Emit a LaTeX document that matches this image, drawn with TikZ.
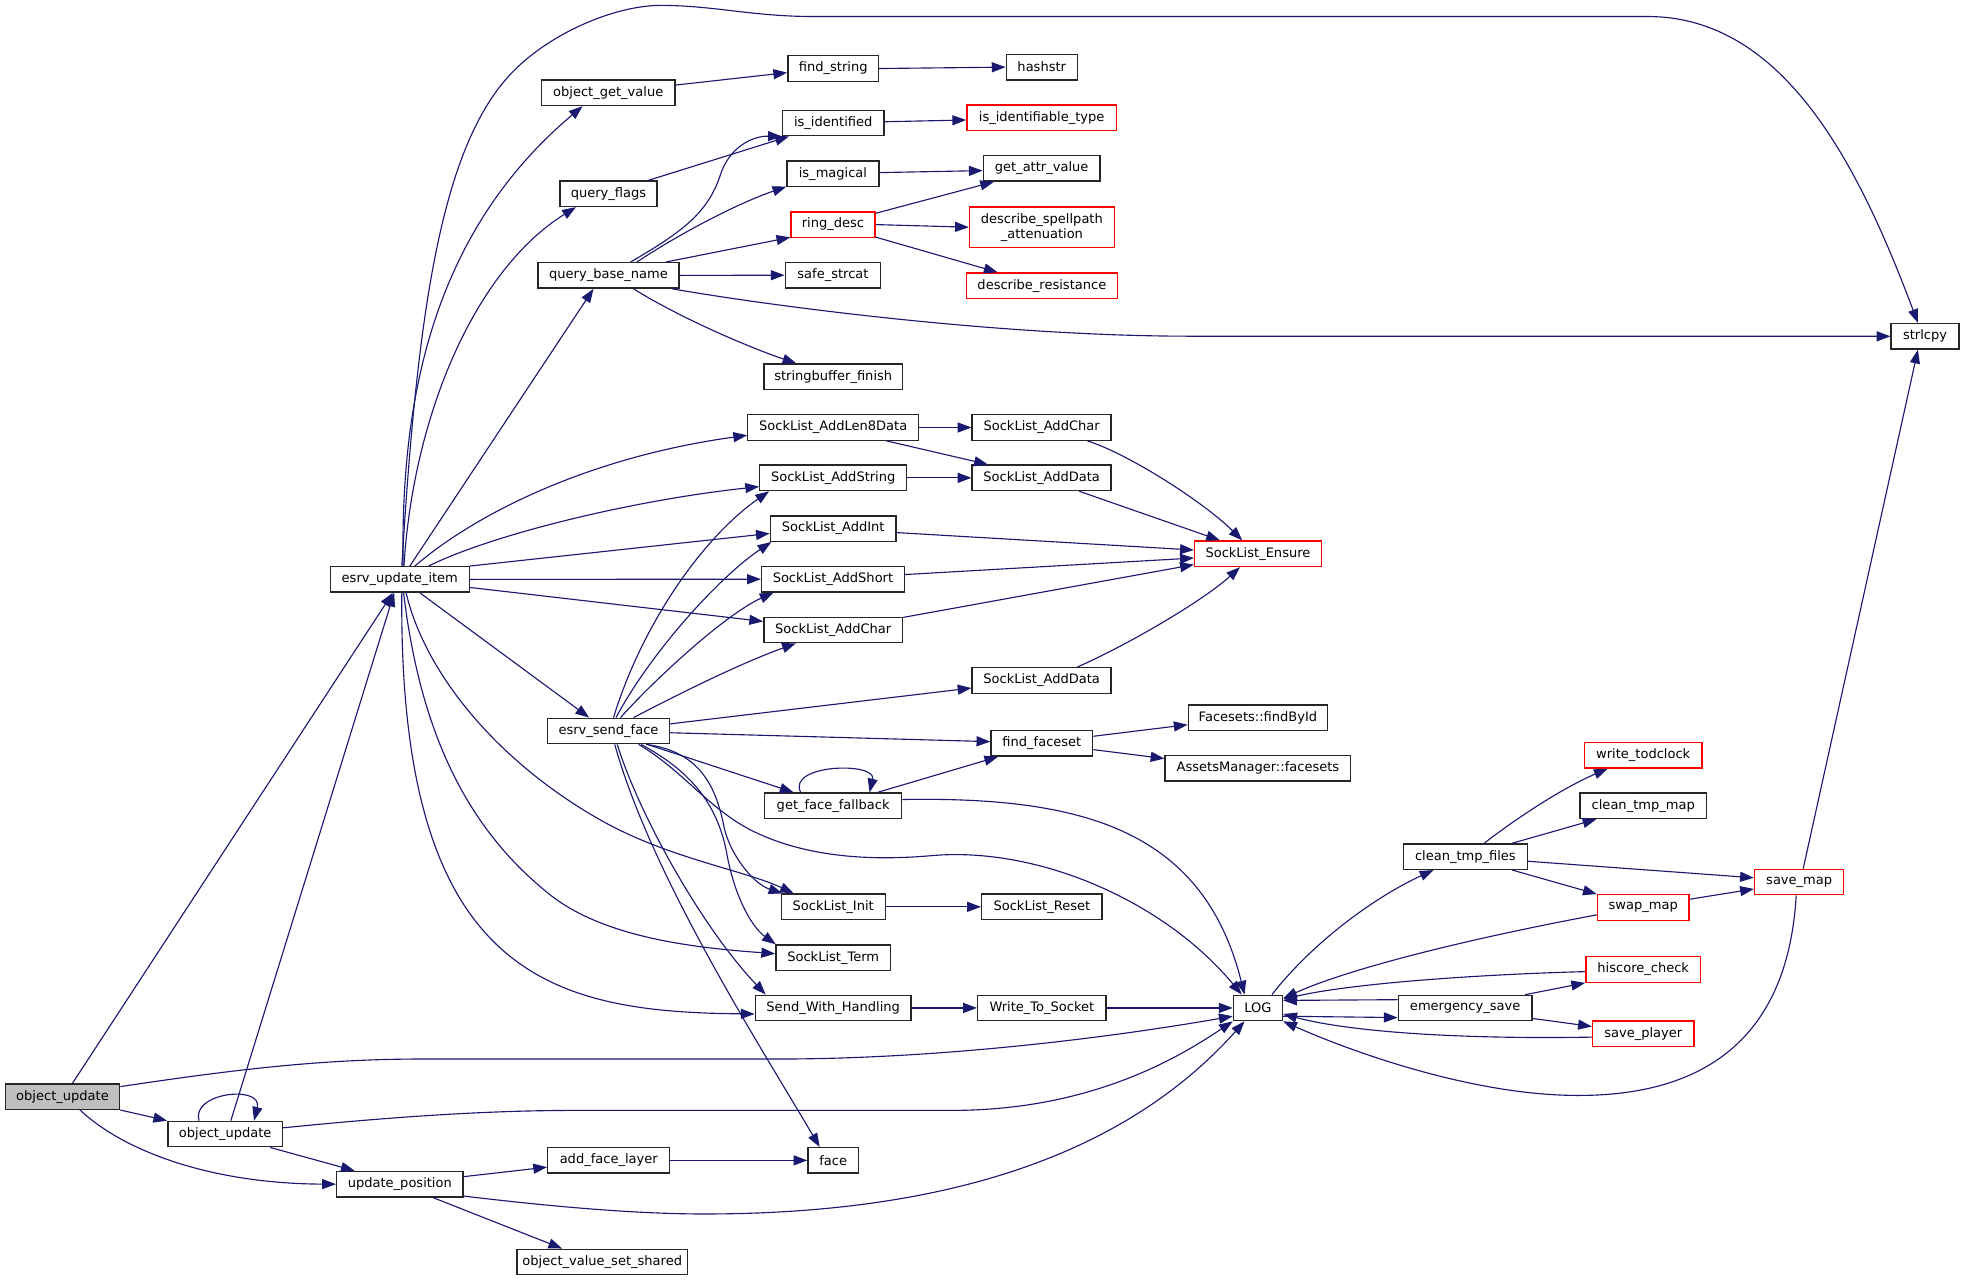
\documentclass[tikz,border=0pt]{standalone}
\usepackage{fontspec}
\setmainfont{DejaVu Sans}
\usetikzlibrary{arrows.meta}
\definecolor{edgeblue}{HTML}{191970}
\definecolor{boxgray}{HTML}{BFBFBF}
\tikzset{
  fn/.style={draw=black!85, line width=1.1pt, fill=white, rectangle, inner sep=0pt,
    minimum height=20.3pt, font=\fontsize{10.4}{12.1}\selectfont, text=black, align=center},
  redfn/.style={fn, draw=red},
  edge/.style={draw=edgeblue, line width=0.9pt, -{Triangle[length=11pt,width=8pt]}},
}
\begin{document}
\begin{tikzpicture}[x=1pt,y=-1pt]
\useasboundingbox (0,0) rectangle (1568,1022.7);
% nodes
\node[fn,fill=boxgray,minimum width=91.2] (A) at (49.9,875.5) {object\_update};
\node[fn,minimum width=91.6] (B) at (179.8,905.4) {object\_update};
\node[fn,minimum width=100.9] (U) at (319.2,945.4) {update\_position};
\node[fn,minimum width=97.3] (AFL) at (486,926.4) {add\_face\_layer};
\node[fn,minimum width=136.2] (OVSS) at (480.8,1007.5) {object\_value\_set\_shared};
\node[fn,minimum width=40.3] (FACE) at (665.2,926.4) {face};
\node[fn,minimum width=110.9] (E) at (319.2,462.6) {esrv\_update\_item};
\node[fn,minimum width=97.6] (S) at (485.8,583.6) {esrv\_send\_face};
\node[fn,minimum width=106.6] (OGV) at (485.6,74.1) {object\_get\_value};
\node[fn,minimum width=77.7] (QF) at (485.8,154.7) {query\_flags};
\node[fn,minimum width=112.6] (QBN) at (485.8,219.9) {query\_base\_name};
\node[fn,minimum width=72.4] (FS) at (665.2,54.7) {find\_string};
\node[fn,minimum width=56.7] (HS) at (831.7,53.6) {hashstr};
\node[fn,minimum width=80.9] (II) at (665.2,98.2) {is\_identified};
\node[redfn,minimum width=119.4] (IIT) at (831.6,94.1) {is\_identifiable\_type};
\node[fn,minimum width=73.4] (IM) at (665,138.6) {is\_magical};
\node[fn,minimum width=93] (GAV) at (831.6,134.4) {get\_attr\_value};
\node[redfn,minimum width=67] (RD) at (665,179.3) {ring\_desc};
\node[redfn,minimum width=115.5,minimum height=32] (DSA) at (831.8,181.4) {describe\_spellpath\\\_attenuation};
\node[fn,minimum width=76.2] (SS) at (665,219.7) {safe\_strcat};
\node[redfn,minimum width=120.4] (DR) at (831.8,228.1) {describe\_resistance};
\node[fn,minimum width=110.8] (SBF) at (665.2,300.8) {stringbuffer\_finish};
\node[fn,minimum width=54.2] (SL) at (1536.9,268.5) {strlcpy};
\node[fn,minimum width=136.4] (L8) at (665.2,341.3) {SockList\_AddLen8Data};
\node[fn,minimum width=110.9] (AC1) at (831.6,341.3) {SockList\_AddChar};
\node[fn,minimum width=117.2] (AS) at (665.2,381.5) {SockList\_AddString};
\node[fn,minimum width=110.9] (AD1) at (831.6,381.5) {SockList\_AddData};
\node[fn,minimum width=100.2] (AI) at (665.2,422) {SockList\_AddInt};
\node[redfn,minimum width=101.2] (EN) at (1004.3,442.1) {SockList\_Ensure};
\node[fn,minimum width=114] (ASH) at (665,462.4) {SockList\_AddShort};
\node[fn,minimum width=110.8] (AC2) at (665.2,502.9) {SockList\_AddChar};
\node[fn,minimum width=110.9] (AD2) at (831.6,543.3) {SockList\_AddData};
\node[fn,minimum width=81.2] (FF) at (831.8,593.4) {find\_faceset};
\node[fn,minimum width=111.2] (FBI) at (1004.3,573) {Facesets::findById};
\node[fn,minimum width=148.2] (AMF) at (1004.3,613.4) {AssetsManager::facesets};
\node[fn,minimum width=109.4] (GFF) at (665.2,643.3) {get\_face\_fallback};
\node[fn,minimum width=83] (SI) at (665.2,724) {SockList\_Init};
\node[fn,minimum width=96.2] (SR) at (831.8,724) {SockList\_Reset};
\node[fn,minimum width=91.6] (ST) at (665.2,764.6) {SockList\_Term};
\node[fn,minimum width=124.4] (SWH) at (665.2,804.7) {Send\_With\_Handling};
\node[fn,minimum width=102.6] (WTS) at (831.8,804.7) {Write\_To\_Socket};
\node[fn,minimum width=39.2] (LOG) at (1004.3,804.7) {LOG};
\node[fn,minimum width=99.1] (CTF) at (1169.9,683.9) {clean\_tmp\_files};
\node[redfn,minimum width=93.7] (WT) at (1311.9,603) {write\_todclock};
\node[fn,minimum width=100.9] (CTM) at (1311.9,643.3) {clean\_tmp\_map};
\node[redfn,minimum width=71.2] (SM) at (1436.4,704.2) {save\_map};
\node[redfn,minimum width=73.1] (SW) at (1311.9,724.5) {swap\_map};
\node[redfn,minimum width=91.6] (HC) at (1311.9,774) {hiscore\_check};
\node[fn,minimum width=106.6] (ES) at (1169.7,804.8) {emergency\_save};
\node[redfn,minimum width=80.9] (SP) at (1311.9,825.3) {save\_player};

% edges from object_update (root)
\draw[edge] ([xshift=8]A.north) -- ([xshift=-5.6]E.south);
\draw[edge] ([yshift=8]A.east) .. controls (180,855) and (250,846) .. (330,845.5) -- (620,845.5) .. controls (760,845.5) and (900,826) .. ([yshift=-6.6]LOG.west);
\draw[edge] (A.south east) -- (B.north west);
\draw[edge] ([xshift=14]A.south) .. controls (100,920) and (170,945) .. (U.west);
% object_update (called)
\draw[edge] ([xshift=-20.8]B.north) .. controls (152,872) and (210,866) .. ([xshift=23]B.north);
\draw[edge] ([xshift=4.5]B.north) -- ([xshift=-4.5]E.south);
\draw[edge] ([yshift=5]B.east) .. controls (300,893) and (380,886.5) .. (460,886.5) -- (760,886.5) .. controls (870,886.5) and (940,845) .. (LOG.south west);
\draw[edge] ([xshift=36]B.south) -- ([xshift=-36]U.north);
% update_position
\draw[edge] ([yshift=6]U.east) -- ([yshift=-5.4]AFL.west);
\draw[edge] ([yshift=-9.5]U.east) .. controls (430,962) and (500,969) .. (560,969.2) .. controls (760,969.5) and (900,920) .. ([xshift=-10.7]LOG.south);
\draw[edge] ([xshift=26.5]U.south) -- ([xshift=-32]OVSS.north);
\draw[edge] (AFL.east) -- (FACE.west);
% esrv_update_item
\draw[edge] ([xshift=1.6]E.north) .. controls (333,250) and (352,120) .. (406.3,60.6) .. controls (436.3,27.6) and (490,4.3) .. (527.5,4.3) .. controls (570,4.3) and (600,13.2) .. (650,13.2) -- (1315.6,13.2) .. controls (1425.6,13.2) and (1485,135) .. ([xshift=-5.7]SL.north);
\draw[edge] ([xshift=2.6]E.north) .. controls (320,330) and (340,190) .. ([xshift=-20.5]OGV.south);
\draw[edge] ([xshift=3.3]E.north) .. controls (330,330) and (380,215) .. ([xshift=-26]QF.south);
\draw[edge] ([xshift=8]E.north) -- ([xshift=-12]QBN.south);
\draw[edge] ([xshift=12]E.north) .. controls (380,410) and (470,365) .. ([yshift=-6.2]L8.west);
\draw[edge] ([xshift=23]E.north) .. controls (390,428) and (500,400) .. ([yshift=-7]AS.west);
\draw[edge] (E.north east) -- ([yshift=-3.9]AI.west);
\draw[edge] (E.east) -- (ASH.west);
\draw[edge] ([yshift=-6.4]E.east) -- ([yshift=6.8]AC2.west);
\draw[edge] ([xshift=16]E.south) -- ([xshift=-15.4]S.north);
\draw[edge] ([xshift=5]E.south) .. controls (340,540) and (400,610) .. (480,655) .. controls (533,685) and (595,695) .. ([xshift=-31.5]SI.north);
\draw[edge] ([xshift=3]E.south) .. controls (335,580) and (370,660) .. (440,715) .. controls (485,750) and (560,757) .. ([yshift=3.2]ST.west);
\draw[edge] ([xshift=1.6]E.south) .. controls (318,780) and (440,808) .. ([yshift=-4.8]SWH.west);
% esrv_send_face
\draw[edge] ([xshift=4]S.north) .. controls (512,500) and (560,430) .. ([xshift=-51.2]AS.south);
\draw[edge] ([xshift=6]S.north) .. controls (520,520) and (575,460) .. ([xshift=-49.4]AI.south);
\draw[edge] ([xshift=9.6]S.north) .. controls (525,540) and (580,490) .. ([xshift=-47.4]ASH.south);
\draw[edge] ([xshift=20]S.north) .. controls (540,555) and (590,530) .. ([xshift=-29.8]AC2.south);
\draw[edge] ([yshift=5.7]S.east) -- ([yshift=-6]AD2.west);
\draw[edge] ([yshift=-1.4]S.east) -- ([yshift=1.3]FF.west);
\draw[edge] ([xshift=31]S.south) -- ([xshift=-31.6]GFF.north);
\draw[edge] ([xshift=24]S.south) .. controls (545,615) and (565,645) .. (600,663) .. controls (640,683) and (690,688) .. (745,683) .. controls (830,676) and (930,720) .. ([xshift=-13]LOG.north);
\draw[edge] ([xshift=30]S.south) .. controls (560,600) and (572,630) .. (578,660) .. controls (582,680) and (600,705) .. ([xshift=1.5]SI.north west);
\draw[edge] ([xshift=26]S.south) .. controls (550,615) and (572,640) .. (580,680) .. controls (586,715) and (600,740) .. ([xshift=0.5]ST.north west);
\draw[edge] ([xshift=7]S.south) .. controls (510,650) and (560,740) .. ([xshift=-53.9]SWH.north);
\draw[edge] ([xshift=5]S.south) .. controls (520,700) and (610,840) .. ([xshift=-10.8]FACE.north);
% upper part
\draw[edge] ([yshift=6.2]OGV.east) -- ([yshift=-3.3]FS.west);
\draw[edge] (FS.east) -- (HS.west);
\draw[edge] ([xshift=31.8]QF.north) -- ([xshift=-35.3]II.south);
\draw[edge] ([xshift=17.6]QBN.north) .. controls (545,185) and (565,170) .. (575,140) .. controls (582,118) and (600,108.5) .. (II.south west);
\draw[edge] ([xshift=22.6]QBN.north) .. controls (545,185) and (590,162) .. ([yshift=-10.4]IM.west);
\draw[edge] ([xshift=45.7]QBN.north) -- ([yshift=-10.2]RD.west);
\draw[edge] (QBN.east) -- (SS.west);
\draw[edge] ([xshift=20]QBN.south) .. controls (545,255) and (600,278) .. ([xshift=-29.4]SBF.north);
\draw[edge] ([xshift=50.8]QBN.south) .. controls (620,245) and (800,268.4) .. (950,268.4) -- (SL.west);
\draw[edge] ([yshift=1]II.east) -- ([yshift=-1.7]IIT.west);
\draw[edge] ([yshift=0.8]IM.east) -- ([yshift=-1.8]GAV.west);
\draw[edge] ([yshift=9]RD.east) -- ([xshift=-38]GAV.south);
\draw[edge] (RD.east) -- (DSA.west);
\draw[edge] ([yshift=-10]RD.east) -- ([xshift=-35.3]DR.north);
% socklist
\draw[edge] (L8.east) -- (AC1.west);
\draw[edge] ([xshift=42.6]L8.south) -- ([xshift=-42.9]AD1.north);
\draw[edge] (AS.east) -- (AD1.west);
\draw[edge] ([xshift=36.6]AC1.south) .. controls (900,362) and (960,400) .. ([xshift=-12.5]EN.north);
\draw[edge] ([xshift=30]AD1.south) -- ([xshift=-30.3]EN.north);
\draw[edge] ([yshift=-3.2]AI.east) -- ([yshift=3]EN.west);
\draw[edge] ([yshift=3.7]ASH.east) -- ([yshift=-3.4]EN.west);
\draw[edge] ([yshift=10]AC2.east) -- ([yshift=-8.7]EN.west);
\draw[edge] ([xshift=28.4]AD2.north) .. controls (900,515) and (960,480) .. ([xshift=-14.3]EN.south);
% faces
\draw[edge] ([yshift=5.6]FF.east) -- ([yshift=-5.6]FBI.west);
\draw[edge] ([yshift=-5.1]FF.east) -- ([yshift=7.8]AMF.west);
\draw[edge] ([xshift=35.4]GFF.north) -- ([xshift=-34.9]FF.south);
\draw[edge] ([xshift=-26]GFF.north) .. controls (628,610) and (700,608) .. ([xshift=29]GFF.north);
\draw[edge] ([yshift=5]GFF.east) .. controls (860,636) and (960,660) .. ([xshift=-10.7]LOG.north);
\draw[edge] (SI.east) -- (SR.west);
\draw[edge] (SWH.east) -- (WTS.west);
\draw[edge] (WTS.east) -- (LOG.west);
% LOG region
\draw[edge] ([xshift=11.2]LOG.north) .. controls (1050,750) and (1100,715) .. ([xshift=-25.4]CTF.south);
\draw[edge] ([yshift=-6.6]LOG.east) -- ([yshift=-7.6]ES.west);
\draw[edge] ([yshift=6.7]ES.west) -- ([yshift=6]LOG.east);
\draw[edge] ([xshift=15]CTF.north) .. controls (1215,650) and (1250,628) .. ([xshift=-28.4]WT.south);
\draw[edge] ([xshift=37.4]CTF.north) -- ([xshift=-37.3]CTM.south);
\draw[edge] ([yshift=-3.7]CTF.east) -- ([yshift=3.4]SM.west);
\draw[edge] ([xshift=37.4]CTF.south) -- (SW.north west);
\draw[edge] ([yshift=6.6]SW.east) -- ([yshift=-5.5]SM.west);
\draw[edge] ([yshift=-5.9]SW.west) .. controls (1180,748) and (1080,772) .. ([yshift=7.7]LOG.east);
\draw[edge] ([yshift=-1.7]HC.west) .. controls (1180,778) and (1080,785) .. ([yshift=7]LOG.east);
\draw[edge] ([xshift=47.9]ES.north) -- (HC.south west);
\draw[edge] ([yshift=-8.3]ES.east) -- ([yshift=5.8]SP.west);
\draw[edge] ([yshift=-2.7]SP.west) .. controls (1150,830) and (1070,822) .. ([yshift=-4.8]LOG.east);
\draw[edge] ([xshift=3.2]SM.north) -- ([xshift=-5.7]SL.south);
\draw[edge] ([xshift=-2.4]SM.south) .. controls (1428,820) and (1370,878) .. (1250,874.4) .. controls (1170,872) and (1080,840) .. (LOG.south east);
\end{tikzpicture}
\end{document}
